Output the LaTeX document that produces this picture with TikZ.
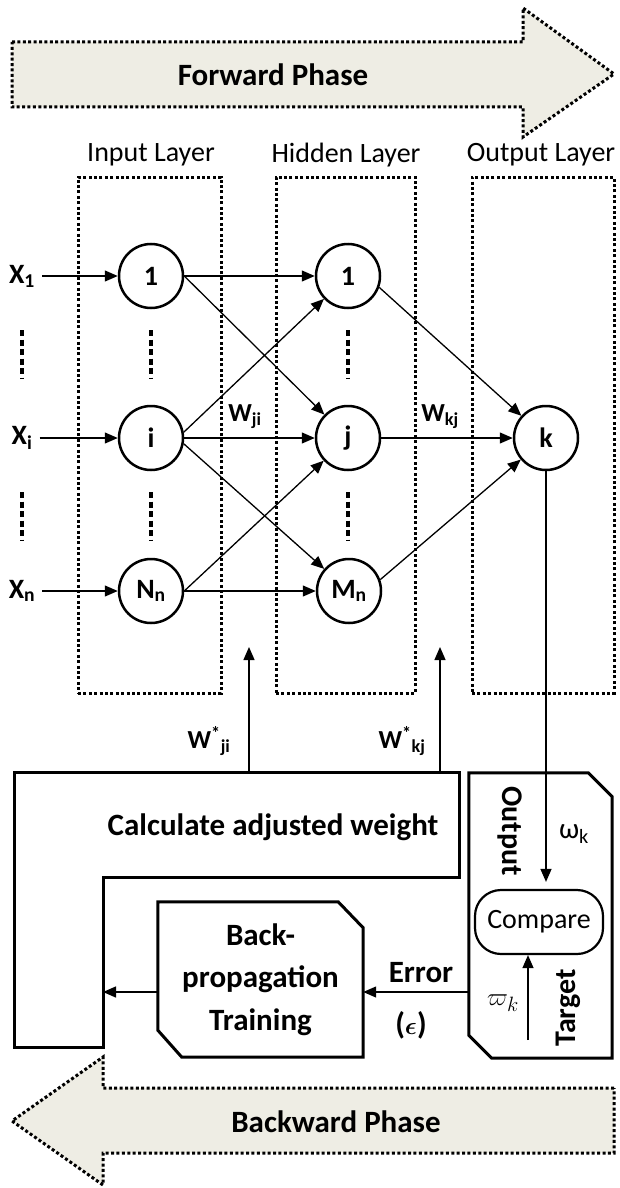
\documentclass[tikz,border=0pt]{standalone}
\usepackage{fontspec}
\setmainfont{Carlito}
\usetikzlibrary{arrows.meta,calc}
\definecolor{phasefill}{RGB}{238,237,228}
\begin{document}
\begin{tikzpicture}[x=1pt,y=-1pt,
  phase/.style={draw, line width=3pt, dash pattern=on 3pt off 2.4pt, fill=phasefill},
  phasetext/.style={font=\bfseries\fontsize{31}{36}\selectfont, inner sep=0pt},
  layerbox/.style={draw, line width=3pt, dash pattern=on 3pt off 2.4pt, minimum height=516pt, inner sep=0pt},
  layertext/.style={font=\fontsize{28}{32}\selectfont, inner sep=0pt},
  neuron/.style={draw, circle, line width=2.5pt, minimum size=64pt, inner sep=0pt, font=\bfseries\fontsize{28}{32}\selectfont},
  inlabel/.style={font=\bfseries\fontsize{28}{32}\selectfont, inner sep=1pt},
  conn/.style={line width=1.3pt, -{Triangle[length=13pt,width=11pt]}},
  vdots/.style={line width=4.5pt, dash pattern=on 6pt off 3.5pt},
  wlabel/.style={font=\bfseries\fontsize{26}{30}\selectfont, inner sep=0pt},
  solidbox/.style={draw, line width=3pt, line join=miter},
  boldtext/.style={font=\bfseries\fontsize{31}{42.5}\selectfont, inner sep=0pt, align=center},
  plaintext/.style={font=\fontsize{29}{32}\selectfont, inner sep=0pt}
]
\useasboundingbox (0,0) rectangle (619,1188);

% phase arrows
\path[phase] (12,42) -- (523,42) -- (523,8) -- (614,74) -- (523,137) -- (523,107) -- (12,107) -- cycle;
\node[phasetext] (fwd) at (273,75) {Forward Phase};
\path[phase] (614,1088) -- (103,1088) -- (103,1057) -- (12,1121) -- (103,1185) -- (103,1153) -- (614,1153) -- cycle;
\node[phasetext] (bwd) at (336,1122) {Backward Phase};

% layer boxes
\node[layerbox, minimum width=143pt] (inbox) at (149.5,435) {};
\node[layerbox, minimum width=139pt] (hidbox) at (345.5,435) {};
\node[layerbox, minimum width=142pt] (outbox) at (543,435) {};
\node[layertext] (inlab) at (151,155) {Input Layer};
\node[layertext] (hidlab) at (346,155) {Hidden Layer};
\node[layertext] (outlab) at (541,155) {Output Layer};

% neurons
\node[neuron] (in1) at (151,276) {1};
\node[neuron] (ini) at (151,438) {i};
\node[neuron] (inN) at (151,591) {N\textsubscript{n}};
\node[neuron] (h1) at (348,276) {1};
\node[neuron] (hj) at (348,438) {j};
\node[neuron] (hM) at (349,591) {M\textsubscript{n}};
\node[neuron] (k) at (546,438) {k};

% inputs
\node[inlabel] (x1) at (22,276) {X\textsubscript{1}};
\node[inlabel] (xi) at (22,438) {X\textsubscript{i}};
\node[inlabel] (xn) at (22,591) {X\textsubscript{n}};
\draw[conn, shorten <=6pt] (x1) -- (in1);
\draw[conn, shorten <=6pt] (xi) -- (ini);
\draw[conn, shorten <=6pt] (xn) -- (inN);

% vertical dots
\draw[vdots] (22,330) -- (22,378);
\draw[vdots] (22,492) -- (22,540);
\draw[vdots] (151,330) -- (151,378);
\draw[vdots] (151,492) -- (151,540);
\draw[vdots] (348,330) -- (348,378);
\draw[vdots] (348,492) -- (348,540);

% weights input -> hidden
\draw[conn] (in1) -- (h1);
\draw[conn] (in1.east) -- (hj);
\draw[conn] (ini.10) -- (h1);
\draw[conn] (ini) -- (hj);
\draw[conn] (ini.-10) -- (hM);
\draw[conn] (inN.east) -- (hj);
\draw[conn] (inN) -- (hM);
% hidden -> output
\draw[conn] (h1.-20) -- (k);
\draw[conn] (hj) -- (k);
\draw[conn] (hM.20) -- (k);

\node[wlabel] (wji) at (245,417) {W\textsubscript{ji}};
\node[wlabel] (wkj) at (440,417) {W\textsubscript{kj}};

% L-shaped adjustment box
\path[solidbox] (14,772) -- (459,772) -- (459,877) -- (103,877) -- (103,1047) -- (14,1047) -- cycle;
\node[boldtext] (calc) at (273,827) {Calculate adjusted weight};
\coordinate (upj0) at (249,772);
\coordinate (upj1) at (249,647);
\coordinate (upk0) at (440,772);
\coordinate (upk1) at (440,647);
\draw[conn] (upj0) -- (upj1);
\draw[conn] (upk0) -- (upk1);
\node[wlabel] (wsji) at (209,741) {W\textsuperscript{*}\textsubscript{ji}};
\node[wlabel] (wskj) at (402,741) {W\textsuperscript{*}\textsubscript{kj}};

% back-propagation box
\node[boldtext, minimum width=205pt, minimum height=155pt] (bp) at (260.5,979.5) {Back-\\propagation\\Training};
\path[solidbox] (bp.north west) -- ($(bp.north east)+(-25,0)$) -- ($(bp.north east)+(0,26)$) -- (bp.south east) -- ($(bp.south west)+(24,0)$) -- ($(bp.south west)+(0,-27)$) -- cycle;

% compare box
\node[minimum width=143pt, minimum height=285pt, inner sep=0pt] (cmpbox) at (540.5,915.5) {};
\path[solidbox] (cmpbox.north west) -- ($(cmpbox.north east)+(-24,0)$) -- ($(cmpbox.north east)+(0,24)$) -- (cmpbox.south east) -- ($(cmpbox.south west)+(23,0)$) -- ($(cmpbox.south west)+(0,-23)$) -- cycle;
\node[draw, line width=2.2pt, rounded corners=26pt, minimum width=128pt, minimum height=64pt, font=\fontsize{28}{30}\selectfont, inner sep=0pt] (cmp) at (539,922) {Compare};
\node[font=\bfseries\fontsize{30}{34}\selectfont, rotate=-90, inner sep=0pt] (outtxt) at (510,831) {Output};
\node[font=\bfseries\fontsize{30}{34}\selectfont, rotate=90, inner sep=0pt] (tgttxt) at (568,1008) {Target};
\node[plaintext] (wout) at (574,834) {ω\textsubscript{k}};
\node[plaintext] (wtgt) at (503,1003) {$\varpi_k$};
\draw[conn, shorten >=7pt] (k) -- (k |- cmp.north);
\coordinate (tgt) at (528,1040);
\draw[conn] (tgt) -- (tgt |- cmp.south);

% error path
\coordinate (erry) at (0,992);
\coordinate (linner) at (103,992);
\draw[conn] (cmpbox.west |- erry) -- (bp.east |- erry);
\draw[conn] (bp.west |- erry) -- (linner);
\node[boldtext] (err) at (421,973) {Error};
\node[boldtext] (eps) at (411,1025) {({\boldmath$\epsilon$})};
\end{tikzpicture}
\end{document}
